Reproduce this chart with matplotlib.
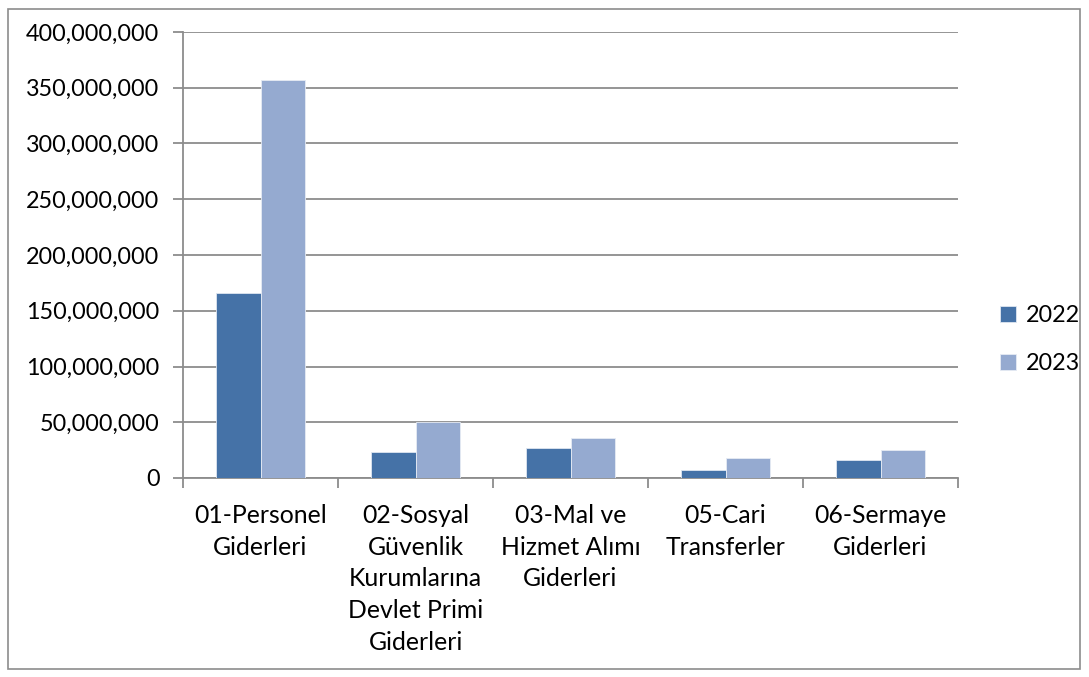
import matplotlib.pyplot as plt
import numpy as np
from matplotlib.patches import Rectangle
from matplotlib.ticker import FuncFormatter, MultipleLocator

categories = ["01-Personel\nGiderleri",
              "02-Sosyal\nGüvenlik\nKurumlarına\nDevlet Primi\nGiderleri",
              "03-Mal ve\nHizmet Alımı\nGiderleri",
              "05-Cari\nTransferler",
              "06-Sermaye\nGiderleri"]
values_2022 = [166_000_000, 23_600_000, 26_900_000, 7_600_000, 16_300_000]
values_2023 = [357_000_000, 50_500_000, 35_600_000, 18_100_000, 25_300_000]
series_labels = ["2022", "2023"]

plt.rcParams['font.family'] = ['Lato', 'DejaVu Sans']
grid_color = '#8c8c8c'
fs = 16.8

fig = plt.figure(figsize=(10.89, 6.77), dpi=100)
ax = fig.add_axes([183 / 1089, 1 - 478 / 677, 775 / 1089, 446 / 677])

# çerçeve
fig.patches.append(Rectangle((8 / 1089, 8 / 677), 1072 / 1089, 660 / 677,
                             transform=fig.transFigure, fill=False,
                             edgecolor='#8c8c8c', linewidth=1.2))

x = np.arange(len(categories))
w = 0.285
ax.bar(x - w / 2, values_2022, w, color='#4572A7', edgecolor='#dfe6f1',
       linewidth=0.6, label=series_labels[0], zorder=3)
ax.bar(x + w / 2, values_2023, w, color='#95AAD0', edgecolor='#e6ebf4',
       linewidth=0.6, label=series_labels[1], zorder=3)

ax.set_xlim(-0.5, len(categories) - 0.5)
ax.set_ylim(0, 400_000_000)
ax.yaxis.set_major_locator(MultipleLocator(50_000_000))
ax.yaxis.set_major_formatter(FuncFormatter(lambda v, p: f"{v:,.0f}"))
ax.grid(axis='y', color=grid_color, linewidth=1.3, zorder=0)

ax.set_xticks(np.arange(len(categories) + 1) - 0.5)
ax.set_xticklabels([])
ax.set_xticks(x, minor=True)
ax.set_xticklabels(categories, minor=True, fontsize=17.8, linespacing=1.45)
ax.tick_params(axis='x', which='minor', length=0, pad=19)
ax.tick_params(axis='x', which='major', length=7, width=1.3, color=grid_color)
ax.tick_params(axis='y', length=7, width=1.3, color=grid_color,
               labelsize=fs, pad=10)

for side in ['top', 'right']:
    ax.spines[side].set_visible(False)
for side in ['left', 'bottom']:
    ax.spines[side].set_color(grid_color)
    ax.spines[side].set_linewidth(1.3)

ax.legend(loc='center left', bbox_to_anchor=(1.027, 0.31), frameon=False,
          fontsize=fs, handlelength=0.7, handleheight=0.7,
          handletextpad=0.4, labelspacing=1.15)

fig.savefig('out.png', dpi=100)
